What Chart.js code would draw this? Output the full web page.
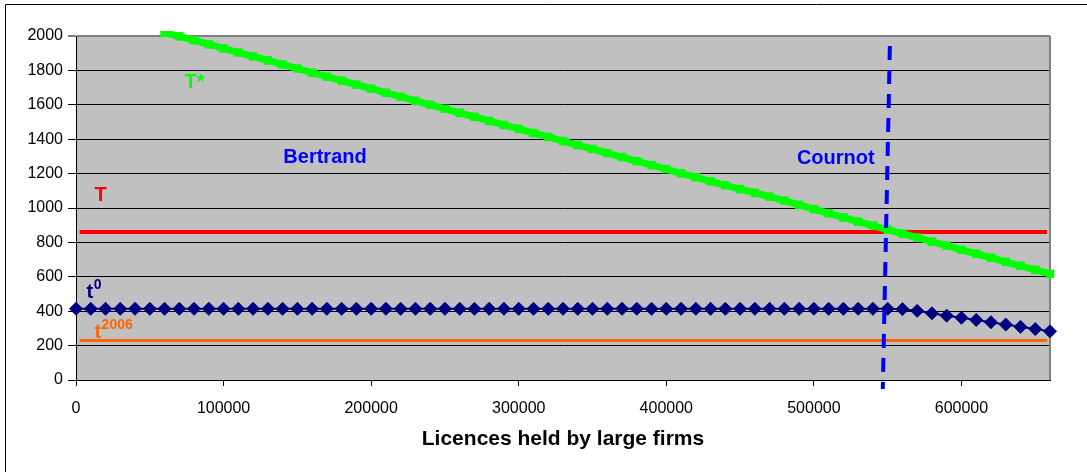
<!DOCTYPE html>
<html>
<head>
<meta charset="utf-8">
<script src="https://cdn.jsdelivr.net/npm/chart.js@4.4.1/dist/chart.umd.min.js"></script>
<style>
  html, body { margin: 0; padding: 0; background: #fff; }
  #wrap { width: 1087px; height: 472px; position: relative; }
</style>
</head>
<body>
<div id="wrap"><canvas id="grafica" width="1087" height="472"></canvas></div>
<script>
// Eje X: licencias en manos de grandes empresas (cada 10000)
const licences = [
  0, 10000, 20000, 30000, 40000, 50000, 60000, 70000, 80000, 90000,
  100000, 110000, 120000, 130000, 140000, 150000, 160000, 170000, 180000, 190000,
  200000, 210000, 220000, 230000, 240000, 250000, 260000, 270000, 280000, 290000,
  300000, 310000, 320000, 330000, 340000, 350000, 360000, 370000, 380000, 390000,
  400000, 410000, 420000, 430000, 440000, 450000, 460000, 470000, 480000, 490000,
  500000, 510000, 520000, 530000, 540000, 550000, 560000, 570000, 580000, 590000,
  600000, 610000, 620000, 630000, 640000, 650000, 660000
];

// Marcas de los ejes
const xTicks = [0, 100000, 200000, 300000, 400000, 500000, 600000];
const yTicks = [0, 200, 400, 600, 800, 1000, 1200, 1400, 1600, 1800, 2000];

// t0 (rombos azul marino), de 0 a 660000
const tZero = [
  414, 414, 414, 414, 414, 414, 414, 414, 414, 414,
  414, 414, 414, 414, 414, 414, 414, 414, 414, 414,
  414, 414, 414, 414, 414, 414, 414, 414, 414, 414,
  414, 414, 414, 414, 414, 414, 414, 414, 414, 414,
  414, 414, 414, 414, 414, 414, 414, 414, 414, 414,
  414, 414, 414, 414, 414, 414, 412, 402, 388, 374,
  362, 349, 336, 322, 309, 296, 283
];

// T* (verde), de 60000 a 660000
const tStarLicences = licences.slice(6);
const tStar = [
  2018, 1998, 1975, 1951, 1928, 1904, 1881, 1858, 1834,
  1811, 1787, 1764, 1740, 1717, 1694, 1670, 1647, 1623, 1600,
  1577, 1553, 1530, 1506, 1483, 1460, 1436, 1413, 1389, 1366,
  1343, 1319, 1296, 1272, 1249, 1226, 1202, 1179, 1155, 1132,
  1110, 1088, 1066, 1043, 1018, 993, 969, 945, 921, 898,
  874, 851, 828, 804, 781, 757, 734, 711, 687, 664,
  640, 617
];

// Lineas horizontales T y t2006
const flatLicences = [2500, 658000];
const bigT = [860, 860];
const t2006 = [230, 230];

// Linea discontinua Cournot
const cournotLicences = [551500, 546700];
const cournotValues = [1942, -52];

// Textos sobre la grafica (coordenadas de datos, linea base)
const notas = [
  { texto: 'T*', x: 73500, y: 1698, color: '#00FF00' },
  { texto: 'Bertrand', x: 140500, y: 1262, color: '#0000FF' },
  { texto: 'Cournot', x: 488500, y: 1256, color: '#0000FF' },
  { texto: 'T', x: 12500, y: 1041, color: '#FF0000' },
  { texto: 't', sup: '0', x: 7100, y: 477, color: '#000080' },
  { texto: 't', sup: '2006', x: 12500, y: 244, color: '#FF6600' }
];

const pares = (xs, ys) => xs.map((x, i) => ({ x: x, y: ys[i] }));

Chart.defaults.font.family = 'Arial, "Liberation Sans", sans-serif';
Chart.defaults.color = '#000';

// Fondo gris y marco
const fondo = {
  id: 'fondo',
  beforeDraw(chart) {
    const { ctx, chartArea: a } = chart;
    ctx.save();
    ctx.fillStyle = '#C0C0C0';
    ctx.fillRect(a.left, a.top, a.right - a.left, a.bottom - a.top);
    ctx.strokeStyle = '#000';
    ctx.lineWidth = 1;
    ctx.beginPath();
    ctx.moveTo(5.5, chart.height);
    ctx.lineTo(5.5, 4.5);
    ctx.lineTo(chart.width, 4.5);
    ctx.stroke();
    ctx.restore();
  },
  beforeDatasetsDraw(chart) {
    const { ctx, chartArea: a } = chart;
    ctx.save();
    ctx.strokeStyle = '#808080';
    ctx.lineWidth = 2;
    ctx.beginPath();
    ctx.moveTo(a.right, a.top);
    ctx.lineTo(a.right, a.bottom);
    ctx.stroke();
    ctx.restore();
  }
};

// Etiquetas de texto
const etiquetas = {
  id: 'etiquetas',
  afterDatasetsDraw(chart) {
    const { ctx } = chart;
    const sx = chart.scales.x, sy = chart.scales.y;
    ctx.save();
    ctx.textAlign = 'left';
    ctx.textBaseline = 'alphabetic';
    notas.forEach(n => {
      const px = sx.getPixelForValue(n.x);
      const py = sy.getPixelForValue(n.y);
      ctx.fillStyle = n.color;
      ctx.font = 'bold 20px Arial, "Liberation Sans", sans-serif';
      ctx.fillText(n.texto, px, py);
      if (n.sup) {
        const w = ctx.measureText(n.texto).width;
        ctx.font = 'bold 14px Arial, "Liberation Sans", sans-serif';
        ctx.fillText(n.sup, px + w + 0.5, py - 9);
      }
    });
    ctx.restore();
  }
};

const ctx = document.getElementById('grafica').getContext('2d');
new Chart(ctx, {
  type: 'scatter',
  data: {
    datasets: [
      {
        data: pares(cournotLicences, cournotValues),
        showLine: true,
        borderColor: '#0000FF',
        borderWidth: 4,
        borderDash: [14, 10],
        pointRadius: 0,
        clip: false
      },
      {
        data: pares(licences, tZero),
        showLine: true,
        borderColor: '#000080',
        borderWidth: 2,
        pointStyle: 'rectRot',
        pointRadius: 6.5,
        pointBackgroundColor: '#000080',
        pointBorderColor: '#000080',
        pointBorderWidth: 1,
        clip: false
      },
      {
        data: pares(tStarLicences, tStar),
        showLine: true,
        borderColor: '#00FF00',
        borderWidth: 7,
        pointStyle: 'rect',
        pointRadius: 6,
        pointBackgroundColor: '#00FF00',
        pointBorderColor: '#00FF00',
        pointBorderWidth: 0,
        clip: { left: 0, top: 5, right: 8, bottom: 0 }
      },
      {
        data: pares(flatLicences, t2006),
        showLine: true,
        borderColor: '#FF6600',
        borderWidth: 3,
        pointRadius: 0
      },
      {
        data: pares(flatLicences, bigT),
        showLine: true,
        borderColor: '#FF0000',
        borderWidth: 4,
        pointRadius: 0
      }
    ]
  },
  options: {
    responsive: false,
    animation: false,
    layout: { padding: { top: 36, right: 37, left: 0, bottom: 0 } },
    plugins: {
      legend: { display: false },
      tooltip: { enabled: false }
    },
    scales: {
      x: {
        type: 'linear',
        min: 0,
        max: 660000,
        afterBuildTicks: s => { s.ticks = xTicks.map(v => ({ value: v })); },
        ticks: {
          autoSkip: false,
          maxRotation: 0,
          padding: 13,
          font: { size: 16 },
          callback: v => String(v)
        },
        grid: { drawOnChartArea: false, tickLength: 6, color: '#000' },
        border: { color: '#000', width: 1 },
        title: {
          display: true,
          text: 'Licences held by large firms',
          font: { size: 21, weight: 'bold' },
          padding: { top: 0, bottom: 20 }
        },
        afterFit: s => { s.height = 92; }
      },
      y: {
        min: 0,
        max: 2000,
        afterBuildTicks: s => { s.ticks = yTicks.map(v => ({ value: v })); },
        ticks: { autoSkip: false, padding: 5, font: { size: 16 }, callback: v => String(v) },
        grid: {
          tickLength: 8,
          color: c => (c.tick && c.tick.value === 2000 ? '#808080' : '#000'),
          lineWidth: c => (c.tick && c.tick.value === 2000 ? 2 : 1)
        },
        border: { color: '#000', width: 1 },
        afterFit: s => { s.width = 76; }
      }
    }
  },
  plugins: [fondo, etiquetas]
});
</script>
</body>
</html>
